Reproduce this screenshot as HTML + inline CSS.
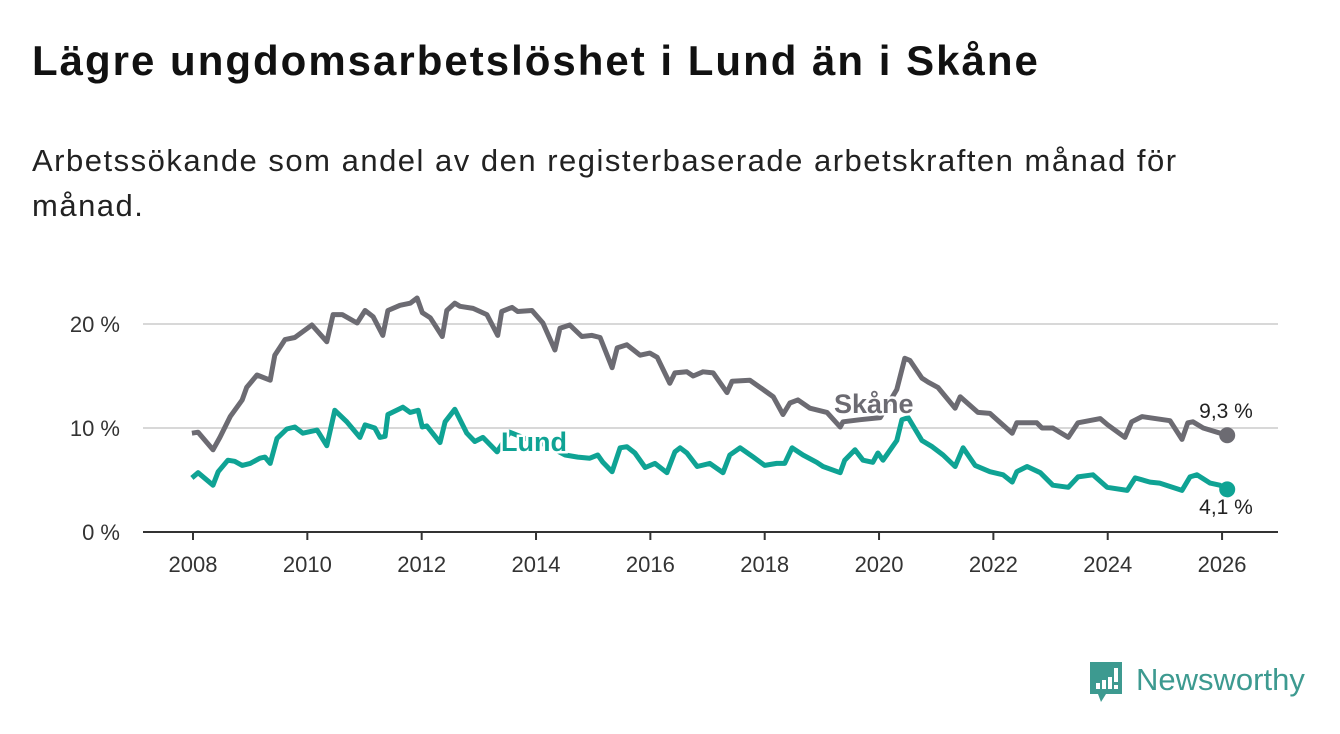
<!DOCTYPE html>
<html><head><meta charset="utf-8">
<style>
body{margin:0;width:1340px;height:734px;background:#fff;font-family:"Liberation Sans",sans-serif;overflow:hidden;position:relative}
#title{position:absolute;left:32px;top:37px;font-size:42px;letter-spacing:2px;font-weight:bold;color:#111;margin:0}
#sub{position:absolute;left:32px;top:138px;font-size:31px;letter-spacing:1.5px;line-height:45px;color:#222;width:1220px}
svg{position:absolute;left:0;top:0}
#logo{position:absolute;left:1088px;top:660px}
</style></head><body>
<h1 id="title">Lägre ungdomsarbetslöshet i Lund än i Skåne</h1>
<div id="sub">Arbetssökande som andel av den registerbaserade arbetskraften månad för månad.</div>
<svg id="chart" width="1340" height="734"></svg>
<div id="logo">
<svg width="225" height="46" style="position:static">
<path d="M2 2 h32 v32 h-16 l-5 8 l-3 -8 h-8 z" fill="#3d9a90"/>
<rect x="8" y="23" width="4" height="6" fill="#fff"/><rect x="14" y="20" width="4" height="9" fill="#fff"/><rect x="20" y="17" width="4" height="12" fill="#fff"/><rect x="26" y="8" width="4" height="14" fill="#fff"/><rect x="26" y="25" width="4" height="4" fill="#fff"/>
<text x="48" y="30" font-size="31" font-family="Liberation Sans, sans-serif" fill="#3d9a90">Newsworthy</text>
</svg></div>
<script>
const years=[2008,2010,2012,2014,2016,2018,2020,2022,2024,2026];
const yTicks=[0,10,20];
const skaneT=[2007.98,2008.09,2008.35,2008.47,2008.65,2008.86,2008.94,2009.12,2009.35,2009.43,2009.61,2009.78,2010.08,2010.34,2010.45,2010.61,2010.87,2011.01,2011.15,2011.32,2011.41,2011.62,2011.80,2011.92,2012.01,2012.15,2012.36,2012.44,2012.58,2012.67,2012.90,2013.14,2013.33,2013.40,2013.58,2013.68,2013.93,2014.12,2014.33,2014.42,2014.59,2014.80,2014.98,2015.12,2015.33,2015.42,2015.59,2015.82,2015.99,2016.12,2016.34,2016.43,2016.64,2016.75,2016.92,2017.10,2017.34,2017.43,2017.74,2017.92,2018.15,2018.32,2018.44,2018.58,2018.79,2019.09,2019.32,2019.37,2019.67,2020.02,2020.31,2020.45,2020.54,2020.75,2020.86,2021.03,2021.33,2021.42,2021.73,2021.94,2022.33,2022.41,2022.76,2022.85,2023.04,2023.31,2023.48,2023.87,2024.00,2024.30,2024.42,2024.60,2025.09,2025.30,2025.40,2025.49,2025.67,2026.09];
const skaneV=[9.5,9.6,7.9,9.1,11.1,12.7,13.9,15.1,14.6,17.0,18.5,18.7,19.9,18.3,20.9,20.9,20.1,21.3,20.7,18.9,21.3,21.8,22.0,22.5,21.1,20.6,18.8,21.3,22.0,21.7,21.5,20.9,18.9,21.2,21.6,21.2,21.3,20.1,17.5,19.6,19.9,18.8,18.9,18.7,15.8,17.7,18.0,17.0,17.2,16.8,14.3,15.3,15.4,15.0,15.4,15.3,13.4,14.5,14.6,13.9,13.0,11.3,12.4,12.7,11.9,11.5,10.1,10.6,10.8,11.0,13.7,16.7,16.5,14.8,14.4,13.9,11.9,13.0,11.5,11.4,9.5,10.5,10.5,10.0,10.0,9.1,10.5,10.9,10.3,9.1,10.6,11.1,10.7,8.9,10.5,10.6,10.0,9.3];
const lundT=[2007.98,2008.09,2008.35,2008.44,2008.61,2008.73,2008.86,2009.00,2009.17,2009.26,2009.35,2009.47,2009.64,2009.78,2009.92,2010.17,2010.34,2010.48,2010.69,2010.92,2011.01,2011.18,2011.27,2011.36,2011.41,2011.67,2011.80,2011.94,2012.01,2012.09,2012.32,2012.41,2012.58,2012.79,2012.93,2013.07,2013.32,2013.54,2013.81,2014.16,2014.51,2014.73,2014.94,2015.08,2015.17,2015.33,2015.47,2015.59,2015.73,2015.91,2016.08,2016.29,2016.43,2016.52,2016.64,2016.82,2017.04,2017.27,2017.39,2017.57,2017.80,2018.00,2018.21,2018.35,2018.48,2018.67,2018.91,2019.02,2019.32,2019.40,2019.58,2019.72,2019.89,2019.98,2020.07,2020.31,2020.40,2020.51,2020.75,2020.93,2021.12,2021.33,2021.47,2021.68,2021.94,2022.17,2022.33,2022.41,2022.59,2022.82,2023.04,2023.31,2023.48,2023.74,2023.99,2024.34,2024.48,2024.74,2024.91,2025.30,2025.44,2025.56,2025.79,2025.96,2026.09];
const lundV=[5.2,5.7,4.5,5.8,6.9,6.8,6.4,6.6,7.1,7.2,6.6,9.0,9.9,10.1,9.5,9.8,8.3,11.7,10.6,9.1,10.3,10.0,9.1,9.2,11.3,12.0,11.5,11.7,10.1,10.2,8.6,10.6,11.8,9.5,8.7,9.1,7.7,9.6,9.0,8.4,7.4,7.2,7.1,7.4,6.7,5.8,8.1,8.2,7.6,6.2,6.6,5.7,7.7,8.1,7.6,6.3,6.6,5.7,7.4,8.1,7.2,6.4,6.6,6.6,8.1,7.4,6.7,6.3,5.7,6.9,7.9,6.9,6.7,7.6,6.9,8.8,10.8,11.0,8.8,8.2,7.4,6.3,8.1,6.4,5.8,5.5,4.8,5.8,6.3,5.7,4.5,4.3,5.3,5.5,4.3,4.0,5.2,4.8,4.7,4.0,5.3,5.5,4.7,4.5,4.1];
const NS="http://www.w3.org/2000/svg";
const svg=document.getElementById('chart');
const X=t=>193+(t-2008)*57.17;
const Y=v=>532-v*10.4;
function mk(tag,attrs){const e=document.createElementNS(NS,tag);for(const k in attrs)e.setAttribute(k,attrs[k]);svg.appendChild(e);return e;}
yTicks.forEach(v=>{
  if(v>0){const g=mk('line',{x1:143,x2:1278,y1:Y(v),y2:Y(v),stroke:'#d8d8d8','stroke-width':2});
  
  }
  const t=mk('text',{x:120,y:Y(v)+8,'text-anchor':'end','font-size':22,fill:'#333'});
  t.textContent=v+' %';
  
  
});
const ax=mk('line',{x1:143,x2:1278,y1:532,y2:532,stroke:'#333','stroke-width':2});


years.forEach(y=>{
  const tk=mk('line',{x1:X(y),x2:X(y),y1:532,y2:540,stroke:'#333','stroke-width':2});
  
  
  const t=mk('text',{x:X(y),y:572,'text-anchor':'middle','font-size':22,fill:'#333'});
  t.textContent=y;
  
  
});
function line(T,V,c,name){
  const d=T.map((t,i)=>(i?'L':'M')+X(t).toFixed(1)+' '+Y(V[i]).toFixed(1)).join(' ');
  const p=mk('path',{d:d,fill:'none',stroke:c,'stroke-width':5,'stroke-linejoin':'round'});
  
  
  const n=T.length-1;
  const dot=mk('circle',{cx:X(T[n]),cy:Y(V[n]),r:8,fill:c});
  
  
}
line(skaneT,skaneV,'#6c6b72','skane');
line(lundT,lundV,'#0fa394','lund');
function lab(x,y,txt,c,bold,name,anchor){
  const t=mk('text',{x:x,y:y,'font-size':bold?27:21,'font-weight':bold?'bold':'normal',fill:c,stroke:'#fff','stroke-width':5,'paint-order':'stroke','text-anchor':anchor||'start'});
  t.textContent=txt;
  
  
}
lab(834,413,'Skåne','#6c6b72',true,'skane-label');
lab(501,451,'Lund','#0fa394',true,'lund-label');
lab(1226,418,skaneV[skaneV.length-1].toString().replace('.',',')+' %','#222',false,'skane-end-value','middle');
lab(1226,514,lundV[lundV.length-1].toString().replace('.',',')+' %','#222',false,'lund-end-value','middle');
</script>
</body></html>
